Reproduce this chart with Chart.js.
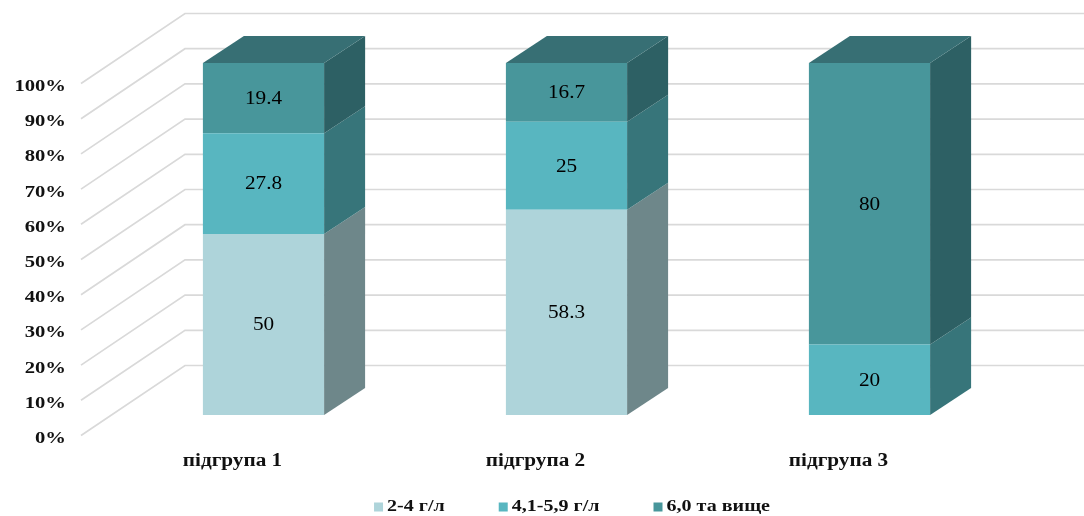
<!DOCTYPE html>
<html lang="uk">
<head>
<meta charset="utf-8">
<script src="https://cdn.jsdelivr.net/npm/chart.js@4/dist/chart.umd.min.js"></script>
<style>
  html, body { margin: 0; padding: 0; background: #ffffff; }
  #wrap { width: 1084px; height: 516px; }
</style>
</head>
<body>
<div id="wrap"><canvas id="c" width="1084" height="516"></canvas></div>
<script>
// Categories, series and raw values
const categories = ['підгрупа 1', 'підгрупа 2', 'підгрупа 3'];
const seriesNames = ['2-4 г/л', '4,1-5,9 г/л', '6,0 та вище'];
const lowLevel = [50, 58.3, 0];
const midLevel = [27.8, 25, 20];
const highLevel = [19.4, 16.7, 80];
const yTickValues = [0, 10, 20, 30, 40, 50, 60, 70, 80, 90, 100];
const yTickLabels = ['0%', '10%', '20%', '30%', '40%', '50%', '60%', '70%', '80%', '90%', '100%'];

// Face colours per series: front, side, top
const frontColors = ['#aed4da', '#58b6c0', '#48969b'];
const sideColors = ['#6e878a', '#37757a', '#2d6064'];
const topColors = ['#8fb1b5', '#4a9aa2', '#376f74'];

const rawSeries = [lowLevel, midLevel, highLevel];
const totals = categories.map((_, i) => rawSeries.reduce((s, arr) => s + arr[i], 0));
// 100% stacking: each segment as a share of its column total
const shares = rawSeries.map(arr => arr.map((v, i) => v / totals[i] * 100));

// 3D geometry
const BAR_DX = 41, BAR_DY = -27;        // bar depth
const WALL_BACK_DX = 73, WALL_BACK_DY = -49.5;  // back wall relative to bar front plane
const WALL_FRONT_DX = -31, WALL_FRONT_DY = 20.5; // front edge of side wall / floor
const STRETCH = 1.18;
const SERIF = '"Liberation Serif", "Times New Roman", serif';

function wideText(ctx, text, x, y, align, font, color) {
  ctx.save();
  ctx.font = font;
  ctx.fillStyle = color;
  ctx.textBaseline = 'middle';
  const w = ctx.measureText(text).width * STRETCH;
  let x0 = x;
  if (align === 'center') x0 = x - w / 2;
  else if (align === 'right') x0 = x - w;
  ctx.translate(x0, y);
  ctx.scale(STRETCH, 1);
  ctx.textAlign = 'left';
  ctx.fillText(text, 0, 0);
  ctx.restore();
  return w;
}

const walls3d = {
  id: 'walls3d',
  beforeDatasetsDraw(chart) {
    const { ctx, chartArea, scales } = chart;
    const y = scales.y;
    ctx.save();
    ctx.strokeStyle = '#d9d9d9';
    ctx.lineWidth = 1.7;
    yTickValues.forEach(v => {
      const py = y.getPixelForValue(v);
      const fx = chartArea.left + WALL_FRONT_DX, fy = py + WALL_FRONT_DY;
      const bx = chartArea.left + WALL_BACK_DX, by = py + WALL_BACK_DY;
      ctx.beginPath();
      ctx.moveTo(fx, fy);
      ctx.lineTo(bx, by);
      ctx.lineTo(chart.width, by);
      ctx.stroke();
    });
    ctx.restore();
    // axis labels at the front edge of the side wall
    yTickValues.forEach((v, k) => {
      const py = y.getPixelForValue(v) + WALL_FRONT_DY + 3;
      wideText(ctx, yTickLabels[k], chartArea.left + WALL_FRONT_DX - 15, py, 'right',
        'bold 17.5px ' + SERIF, '#111111');
    });
  },
  afterDatasetsDraw(chart) {
    const { ctx } = chart;
    const n = chart.data.datasets.length;
    chart.data.datasets.forEach((ds, di) => {
      const meta = chart.getDatasetMeta(di);
      meta.data.forEach((bar, i) => {
        const { x, y, base, width } = bar.getProps(['x', 'y', 'base', 'width'], true);
        if (Math.abs(base - y) < 0.5) return;
        const x1 = x - width / 2, x2 = x + width / 2;
        // right side face
        ctx.save();
        ctx.fillStyle = sideColors[di];
        ctx.beginPath();
        ctx.moveTo(x2, y);
        ctx.lineTo(x2 + BAR_DX, y + BAR_DY);
        ctx.lineTo(x2 + BAR_DX, base + BAR_DY);
        ctx.lineTo(x2, base);
        ctx.closePath();
        ctx.fill();
        // top face on the uppermost visible segment
        let isTop = true;
        for (let k = di + 1; k < n; k++) {
          if (chart.data.datasets[k].data[i] > 0) isTop = false;
        }
        if (isTop) {
          ctx.fillStyle = topColors[di];
          ctx.beginPath();
          ctx.moveTo(x1, y);
          ctx.lineTo(x2, y);
          ctx.lineTo(x2 + BAR_DX, y + BAR_DY);
          ctx.lineTo(x1 + BAR_DX, y + BAR_DY);
          ctx.closePath();
          ctx.fill();
        }
        ctx.restore();
        // value label centred on the front face
        const raw = rawSeries[di][i];
        wideText(ctx, String(raw), x, (y + base) / 2 + 1, 'center',
          '18px ' + SERIF, '#000000');
      });
    });
  },
  afterDraw(chart) {
    const { ctx, chartArea, scales } = chart;
    const xs = scales.x;
    // category names sit on the front edge of the floor
    categories.forEach((c, i) => {
      wideText(ctx, c, xs.getPixelForValue(i) + WALL_FRONT_DX, chartArea.bottom + 46, 'center',
        'bold 18px ' + SERIF, '#111111');
    });
    // legend
    const font = 'bold 17px ' + SERIF;
    ctx.save();
    ctx.font = font;
    const box = 9, gapBox = 4, gapItem = 54;
    const widths = seriesNames.map(s => ctx.measureText(s).width * STRETCH);
    const total = widths.reduce((s, w) => s + w + box + gapBox, 0) + gapItem * (seriesNames.length - 1);
    ctx.restore();
    let lx = 572 - total / 2;
    const ly = 507;
    seriesNames.forEach((s, k) => {
      ctx.fillStyle = frontColors[k];
      ctx.fillRect(lx, ly - box / 2, box, box);
      lx += box + gapBox;
      wideText(ctx, s, lx, ly, 'left', font, '#111111');
      lx += widths[k] + gapItem;
    });
  }
};

new Chart(document.getElementById('c'), {
  type: 'bar',
  data: {
    labels: categories,
    datasets: seriesNames.map((name, k) => ({
      label: name,
      data: shares[k],
      backgroundColor: frontColors[k],
      borderWidth: 0,
      barPercentage: 0.4,
      categoryPercentage: 1.0
    }))
  },
  options: {
    responsive: false,
    animation: false,
    layout: { padding: { left: 112, right: 63, top: 63, bottom: 101 } },
    plugins: { legend: { display: false }, tooltip: { enabled: false } },
    scales: {
      x: { stacked: true, display: false },
      y: { stacked: true, display: false, min: 0, max: 100 }
    }
  },
  plugins: [walls3d]
});
</script>
</body>
</html>
